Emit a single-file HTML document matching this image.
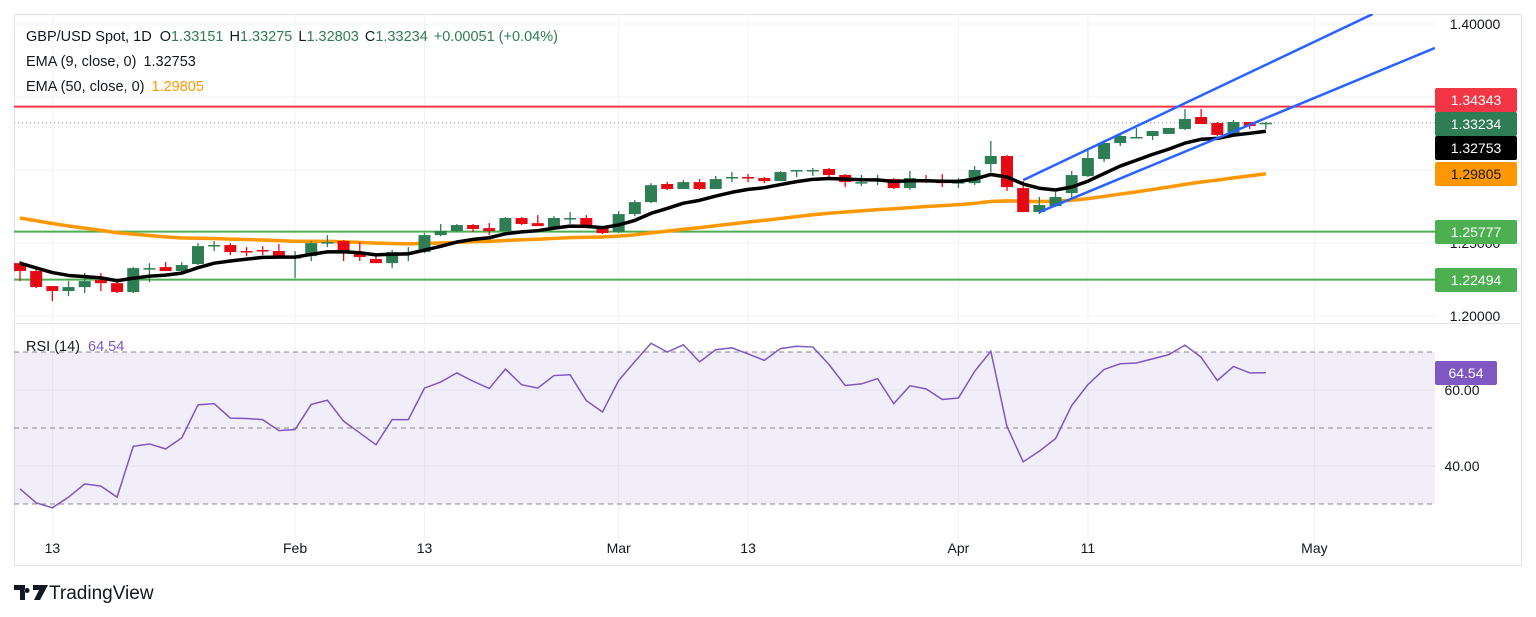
<!DOCTYPE html>
<html><head><meta charset="utf-8">
<style>
html,body{margin:0;padding:0;background:#fff;}
svg{display:block;font-family:"Liberation Sans",sans-serif;}
</style></head>
<body>
<svg id="chart" width="1536" height="617" viewBox="0 0 1536 617" xmlns="http://www.w3.org/2000/svg">
  <defs>
    <clipPath id="mainClip"><rect x="14" y="14" width="1421" height="309"/></clipPath>
    <clipPath id="rsiClip"><rect x="14" y="324" width="1421" height="221"/></clipPath>
  </defs>
  <rect x="14.5" y="14.5" width="1507" height="551" fill="none" stroke="#e0e3eb"/>
  <line x1="14" y1="323.5" x2="1522" y2="323.5" stroke="#e0e3eb"/>
  <g id="grid"></g>
  <g id="rsiPane" clip-path="url(#rsiClip)"></g>
  <g id="mainPane" clip-path="url(#mainClip)"></g>
  <g id="axes"></g>
  <g font-size="14.5" fill="#131722">
    <text x="26" y="41">GBP/USD Spot, 1D <tspan dx="4">O</tspan><tspan fill="#2e7d54">1.33151</tspan><tspan dx="6">H</tspan><tspan fill="#2e7d54">1.33275</tspan><tspan dx="6">L</tspan><tspan fill="#2e7d54">1.32803</tspan><tspan dx="6">C</tspan><tspan fill="#2e7d54">1.33234</tspan><tspan dx="6" fill="#2e7d54">+0.00051 (+0.04%)</tspan></text>
    <text x="26" y="66">EMA (9, close, 0) <tspan dx="3">1.32753</tspan></text>
    <text x="26" y="91">EMA (50, close, 0) <tspan dx="3" fill="#ff9800">1.29805</tspan></text>
    <text x="26" y="351">RSI (14) <tspan dx="4" fill="#7e57c2">64.54</tspan></text>
  </g>
  <g>
    <path d="M14 585 h11 v15 h-5 v-10 h-6 z M26 585 h5 l-1 0 z M27 588 a2.5 2.5 0 1 0 0.1 0 z M33 585 h15 l-8 15 h-6 l5 -10 h-6 z" fill="#131722"/>
    <text x="49" y="599" font-size="19" fill="#131722">TradingView</text>
  </g>
</svg>
<script>
const opens=[1.2362,1.2308,1.2205,1.2171,1.2198,1.2246,1.2225,1.2164,1.2321,1.2335,1.2308,1.2356,1.2479,1.2486,1.2445,1.2452,1.2445,1.2400,1.2410,1.2503,1.2513,1.2438,1.2390,1.2362,1.2434,1.2438,1.2554,1.2582,1.2623,1.2602,1.2582,1.2671,1.2636,1.2609,1.2667,1.2671,1.2609,1.2575,1.2698,1.2780,1.2904,1.2870,1.2917,1.2870,1.2948,1.2952,1.2945,1.2924,1.2996,1.2996,1.3007,1.2966,1.2914,1.2928,1.2938,1.2876,1.2931,1.2931,1.2914,1.2910,1.3041,1.3096,1.2876,1.2712,1.2753,1.2842,1.2958,1.3075,1.3185,1.3223,1.3233,1.3247,1.3281,1.3363,1.3322,1.3240,1.3329,1.33151];
const highs=[1.2376,1.2321,1.2205,1.2239,1.2294,1.2294,1.2239,1.2335,1.2362,1.2369,1.2369,1.2499,1.2513,1.2499,1.2472,1.2479,1.2493,1.2445,1.2513,1.2554,1.2520,1.2506,1.2417,1.2452,1.2472,1.2568,1.2630,1.2630,1.2630,1.2637,1.2678,1.2678,1.2691,1.2684,1.2712,1.2691,1.2616,1.2719,1.2794,1.2910,1.2918,1.2931,1.2938,1.2959,1.2986,1.2972,1.2952,1.2993,1.3000,1.3014,1.3014,1.2972,1.2966,1.2966,1.2945,1.2993,1.2966,1.2972,1.2945,1.3027,1.3199,1.3103,1.2924,1.2815,1.2849,1.2993,1.3150,1.3192,1.3253,1.3288,1.3267,1.3288,1.3418,1.3418,1.3329,1.3343,1.3329,1.33275];
const lows=[1.2239,1.2191,1.2102,1.2136,1.2157,1.2171,1.2157,1.2157,1.2232,1.2308,1.2294,1.2349,1.2445,1.2417,1.2410,1.2417,1.2410,1.2260,1.2376,1.2472,1.2376,1.2376,1.2362,1.2328,1.2376,1.2431,1.2547,1.2575,1.2575,1.2554,1.2582,1.2623,1.2616,1.2602,1.2630,1.2602,1.2561,1.2568,1.2684,1.2773,1.2863,1.2870,1.2863,1.2870,1.2917,1.2917,1.2910,1.2924,1.2952,1.2959,1.2945,1.2883,1.2890,1.2897,1.2870,1.2863,1.2910,1.2883,1.2876,1.2897,1.2986,1.2856,1.2712,1.2698,1.2746,1.2808,1.2952,1.3055,1.3164,1.3219,1.3206,1.3247,1.3274,1.3315,1.3233,1.3240,1.3281,1.32803];
const closes=[1.2308,1.2198,1.2171,1.2198,1.2239,1.2225,1.2164,1.2328,1.2328,1.2308,1.2349,1.2479,1.2486,1.2438,1.2441,1.2448,1.2410,1.2404,1.2499,1.2506,1.2445,1.2404,1.2362,1.2438,1.2438,1.2554,1.2582,1.2623,1.2596,1.2582,1.2671,1.2630,1.2616,1.2671,1.2671,1.2609,1.2568,1.2698,1.2780,1.2896,1.2870,1.2917,1.2870,1.2938,1.2952,1.2948,1.2924,1.2986,1.3000,1.3000,1.2966,1.2917,1.2917,1.2931,1.2876,1.2945,1.2928,1.2910,1.2917,1.3000,1.3096,1.2883,1.2712,1.2760,1.2815,1.2965,1.3082,1.3185,1.3233,1.3226,1.3267,1.3288,1.3349,1.3315,1.3240,1.3329,1.3301,1.33234];
const rsiValues=[34,30.3,29.0,31.8,35.3,34.7,31.8,45.2,45.8,44.5,47.4,56.1,56.4,52.6,52.5,52.2,49.3,49.6,56.2,57.3,51.8,48.7,45.6,52.2,52.2,60.5,62.1,64.5,62.3,60.4,65.5,61.4,60.5,63.8,64.0,57.2,54.2,62.5,67.5,72.3,70.0,71.9,67.4,70.6,71.1,69.5,67.8,70.9,71.5,71.3,66.7,61.2,61.6,63.0,56.4,61.1,60.3,57.5,57.9,64.9,70.2,50.4,41.1,43.9,47.2,55.9,61.4,65.4,66.9,67.1,68.2,69.3,71.8,68.6,62.5,66.2,64.5,64.54];
const timeTickIdx=[2,17,25,37,45,58,66,80];
const timeTickLabels=["13","Feb","13","Mar","13","Apr","11","May"];
const priceTicks=[1.40,1.35,1.30,1.25,1.20];
const rsiTicks=[60,40];
const rsiBands=[70,50,30];
const levelPrices=[1.34343,1.25777,1.22494];
const levelColors=["#f23645","#4caf50","#4caf50"];
const ema9Seed=1.2362, ema50Seed=1.2671;
const upperTrend=[[62,1.2931],[83.6,1.4068]];
const lowerTrend=[[63,1.2712],[87.45,1.3836]];

const NS="http://www.w3.org/2000/svg";
const xOf=i=>20+16.18*i;
const yP=p=>24+(1.40-p)*1460;
const yR=v=>352+(70-v)*3.8;
function mk(tag,attrs,parent){const e=document.createElementNS(NS,tag);for(const k in attrs)e.setAttribute(k,attrs[k]);parent.appendChild(e);return e;}
const grid=document.getElementById('grid'),main=document.getElementById('mainPane'),rsiG=document.getElementById('rsiPane'),axes=document.getElementById('axes');

// grid
priceTicks.forEach(p=>{const l=mk('line',{x1:14,x2:1435,y1:yP(p),y2:yP(p),stroke:'#f0f3fa'},grid);

});
rsiTicks.forEach(v=>{const l=mk('line',{x1:14,x2:1435,y1:yR(v),y2:yR(v),stroke:'#f0f3fa'},grid);

});
timeTickIdx.forEach(i=>{const l=mk('line',{x1:xOf(i),x2:xOf(i),y1:14,y2:545,stroke:'#f0f3fa'},grid);

});

// RSI pane
const bg=mk('rect',{x:14,y:yR(70),width:1421,height:yR(30)-yR(70),fill:'#7e57c2','fill-opacity':0.1},rsiG);


rsiBands.forEach(v=>{const l=mk('line',{x1:14,x2:1435,y1:yR(v),y2:yR(v),stroke:'#888','stroke-dasharray':'5 4'},rsiG);

});
const rsiLine=mk('polyline',{points:rsiValues.map((v,i)=>xOf(i)+','+yR(v)).join(' '),fill:'none',stroke:'#7e57c2','stroke-width':1.5},rsiG);



// levels
levelPrices.forEach((p,k)=>{const l=mk('line',{x1:14,x2:1435,y1:yP(p),y2:yP(p),stroke:levelColors[k],'stroke-width':2},main);

});
const last=closes[closes.length-1];
const dl=mk('line',{x1:14,x2:1435,y1:yP(last),y2:yP(last),stroke:'#888','stroke-dasharray':'1 3'},main);



// EMAs
function ema(seed,n){const a=2/(n+1);const out=[];let e=seed;closes.forEach((c,i)=>{if(i>0)e=e+a*(c-e);out.push(e);});return out;}
const e9=ema(ema9Seed,9),e50=ema(ema50Seed,50);
const l50=mk('polyline',{points:e50.map((v,i)=>xOf(i)+','+yP(v)).join(' '),fill:'none',stroke:'#ff9800','stroke-width':3.5,'stroke-linejoin':'round'},main);



// candles
closes.forEach((c,i)=>{const o=opens[i],h=highs[i],l=lows[i];const up=c>=o;const col=up?'#2e7d54':'#e50914';
const g=mk('g',{},main);


const x=xOf(i);
mk('line',{x1:x,x2:x,y1:yP(h),y2:yP(l),stroke:col,'stroke-width':1.3},g);
const top=yP(Math.max(o,c)),bot=yP(Math.min(o,c));
mk('rect',{x:x-6,y:top,width:12,height:Math.max(1.5,bot-top),fill:col},g);
});
const l9=mk('polyline',{points:e9.map((v,i)=>xOf(i)+','+yP(v)).join(' '),fill:'none',stroke:'#000','stroke-width':3.5,'stroke-linejoin':'round'},main);



// trendlines
[upperTrend,lowerTrend].forEach((t,k)=>{const l=mk('line',{x1:xOf(t[0][0]),y1:yP(t[0][1]),x2:xOf(t[1][0]),y2:yP(t[1][1]),stroke:'#2962ff','stroke-width':2.5},main);

});

// axes labels
priceTicks.forEach(p=>{const t=mk('text',{x:1475,y:yP(p)+5,'font-size':14,'text-anchor':'middle',fill:'#131722'},axes);t.textContent=p.toFixed(5);

});
rsiTicks.forEach(v=>{const t=mk('text',{x:1462,y:yR(v)+5,'font-size':14,'text-anchor':'middle',fill:'#131722'},axes);t.textContent=v.toFixed(2);

});
timeTickIdx.forEach((i,k)=>{const t=mk('text',{x:xOf(i),y:553,'font-size':14,'text-anchor':'middle',fill:'#131722'},axes);t.textContent=timeTickLabels[k];

});
function badge(val,text,bgc,fg,w,yc,name){const g=mk('g',{},axes);


mk('rect',{x:1435,y:yc-12,width:w,height:24,rx:2,fill:bgc},g);
const t=mk('text',{x:1435+w/2,y:yc+5,'font-size':14,'text-anchor':'middle',fill:fg},g);t.textContent=text;}
badge(0,'1.34343','#f23645','#fff',82,100,'badge-resistance');
badge(0,last.toFixed(5),'#2e7d54','#fff',82,124,'badge-last-price');
badge(0,e9[e9.length-1].toFixed(5)==='x'?'':'1.32753','#000','#fff',82,148,'badge-ema9');
badge(0,'1.29805','#ff9800','#131722',82,174,'badge-ema50');
badge(0,'1.25777','#4caf50','#fff',82,232,'badge-support-1');
badge(0,'1.22494','#4caf50','#fff',82,280,'badge-support-2');
badge(0,'64.54','#7e57c2','#fff',62,373,'badge-rsi');
</script>
</body></html>
